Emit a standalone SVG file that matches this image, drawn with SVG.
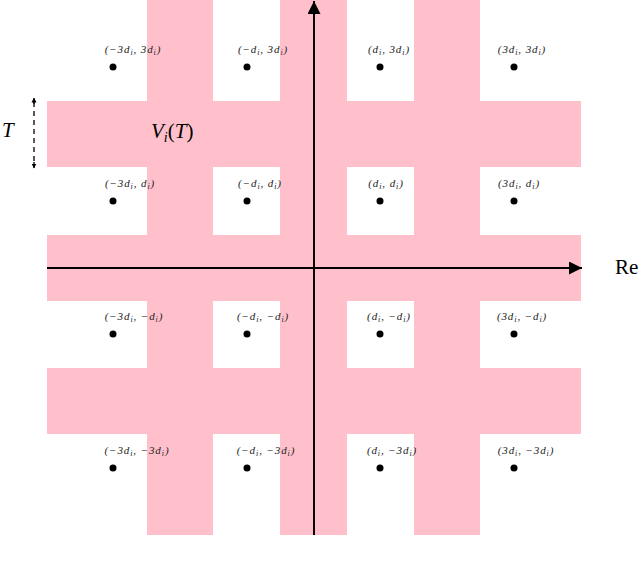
<svg xmlns="http://www.w3.org/2000/svg" width="640" height="568" viewBox="0 0 640 568">
<style>
.b{fill:#ffc0cb}
.lbl{font-family:"Liberation Serif",serif;font-size:11px;letter-spacing:0.9px;font-style:italic;text-anchor:middle;fill:#222}
.ax{stroke:#000;stroke-width:2;fill:none}
.big{font-family:"Liberation Serif",serif;font-size:21px;fill:#000}
</style>
<defs>
<marker id="as" viewBox="0 0 10 10" refX="9" refY="5" markerWidth="5" markerHeight="7" markerUnits="userSpaceOnUse" orient="auto"><path d="M0,0L10,5L0,10z"/></marker>
<marker id="big" viewBox="0 0 10 10" refX="10" refY="5" markerWidth="17" markerHeight="13" markerUnits="userSpaceOnUse" orient="auto"><path d="M0,0L10,5L0,10z"/></marker>
</defs>
<g id="region">
<rect class="b" x="147" y="0" width="66" height="535"/>
<rect class="b" x="280" y="0" width="67" height="535"/>
<rect class="b" x="414" y="0" width="66" height="535"/>
<rect class="b" x="47" y="101" width="534" height="66"/>
<rect class="b" x="47" y="235" width="534" height="66"/>
<rect class="b" x="47" y="368" width="534" height="66"/>
</g>
<g id="connectors">
<line class="ax" x1="314" y1="535" x2="314" y2="1" marker-end="url(#big)"/>
<line class="ax" x1="47" y1="268" x2="582" y2="268" marker-end="url(#big)"/>
<line x1="34" y1="104" x2="34" y2="98" stroke="#000" stroke-width="1.3" marker-end="url(#as)"/>
<line x1="34" y1="102" x2="34" y2="166" stroke="#000" stroke-width="1.3" stroke-dasharray="5,4"/>
<line x1="34" y1="162" x2="34" y2="168" stroke="#000" stroke-width="1.3" marker-end="url(#as)"/>
</g>
<g id="points">
<circle cx="113" cy="67" r="3.5"/><circle cx="247" cy="67" r="3.5"/><circle cx="380" cy="67" r="3.5"/><circle cx="514" cy="67" r="3.5"/>
<circle cx="113" cy="201" r="3.5"/><circle cx="247" cy="201" r="3.5"/><circle cx="380" cy="201" r="3.5"/><circle cx="514" cy="201" r="3.5"/>
<circle cx="113" cy="334" r="3.5"/><circle cx="247" cy="334" r="3.5"/><circle cx="380" cy="334" r="3.5"/><circle cx="514" cy="334" r="3.5"/>
<circle cx="113" cy="468" r="3.5"/><circle cx="247" cy="468" r="3.5"/><circle cx="380" cy="468" r="3.5"/><circle cx="514" cy="468" r="3.5"/>
</g>
<g id="labels">
<text class="lbl" x="133" y="53">(−3d<tspan font-size="8" dy="2">i</tspan><tspan dy="-2">, 3d</tspan><tspan font-size="8" dy="2">i</tspan><tspan dy="-2">)</tspan></text>
<text class="lbl" x="263" y="53">(−d<tspan font-size="8" dy="2">i</tspan><tspan dy="-2">, 3d</tspan><tspan font-size="8" dy="2">i</tspan><tspan dy="-2">)</tspan></text>
<text class="lbl" x="389" y="53">(d<tspan font-size="8" dy="2">i</tspan><tspan dy="-2">, 3d</tspan><tspan font-size="8" dy="2">i</tspan><tspan dy="-2">)</tspan></text>
<text class="lbl" x="522" y="53">(3d<tspan font-size="8" dy="2">i</tspan><tspan dy="-2">, 3d</tspan><tspan font-size="8" dy="2">i</tspan><tspan dy="-2">)</tspan></text>
<text class="lbl" x="130" y="187">(−3d<tspan font-size="8" dy="2">i</tspan><tspan dy="-2">, d</tspan><tspan font-size="8" dy="2">i</tspan><tspan dy="-2">)</tspan></text>
<text class="lbl" x="260" y="187">(−d<tspan font-size="8" dy="2">i</tspan><tspan dy="-2">, d</tspan><tspan font-size="8" dy="2">i</tspan><tspan dy="-2">)</tspan></text>
<text class="lbl" x="386" y="187">(d<tspan font-size="8" dy="2">i</tspan><tspan dy="-2">, d</tspan><tspan font-size="8" dy="2">i</tspan><tspan dy="-2">)</tspan></text>
<text class="lbl" x="519" y="187">(3d<tspan font-size="8" dy="2">i</tspan><tspan dy="-2">, d</tspan><tspan font-size="8" dy="2">i</tspan><tspan dy="-2">)</tspan></text>
<text class="lbl" x="134" y="320">(−3d<tspan font-size="8" dy="2">i</tspan><tspan dy="-2">, −d</tspan><tspan font-size="8" dy="2">i</tspan><tspan dy="-2">)</tspan></text>
<text class="lbl" x="263" y="320">(−d<tspan font-size="8" dy="2">i</tspan><tspan dy="-2">, −d</tspan><tspan font-size="8" dy="2">i</tspan><tspan dy="-2">)</tspan></text>
<text class="lbl" x="389" y="320">(d<tspan font-size="8" dy="2">i</tspan><tspan dy="-2">, −d</tspan><tspan font-size="8" dy="2">i</tspan><tspan dy="-2">)</tspan></text>
<text class="lbl" x="522" y="320">(3d<tspan font-size="8" dy="2">i</tspan><tspan dy="-2">, −d</tspan><tspan font-size="8" dy="2">i</tspan><tspan dy="-2">)</tspan></text>
<text class="lbl" x="137" y="454">(−3d<tspan font-size="8" dy="2">i</tspan><tspan dy="-2">, −3d</tspan><tspan font-size="8" dy="2">i</tspan><tspan dy="-2">)</tspan></text>
<text class="lbl" x="266" y="454">(−d<tspan font-size="8" dy="2">i</tspan><tspan dy="-2">, −3d</tspan><tspan font-size="8" dy="2">i</tspan><tspan dy="-2">)</tspan></text>
<text class="lbl" x="392" y="454">(d<tspan font-size="8" dy="2">i</tspan><tspan dy="-2">, −3d</tspan><tspan font-size="8" dy="2">i</tspan><tspan dy="-2">)</tspan></text>
<text class="lbl" x="526" y="454">(3d<tspan font-size="8" dy="2">i</tspan><tspan dy="-2">, −3d</tspan><tspan font-size="8" dy="2">i</tspan><tspan dy="-2">)</tspan></text>
<text class="big" x="151" y="138" font-style="italic">V<tspan font-size="14" dy="4">i</tspan><tspan dy="-4" font-style="normal">(</tspan>T<tspan font-style="normal">)</tspan></text>
<text class="big" x="2" y="137" font-style="italic">T</text>
<text class="big" x="615" y="274" font-size="18">Re</text>
</g>
</svg>
